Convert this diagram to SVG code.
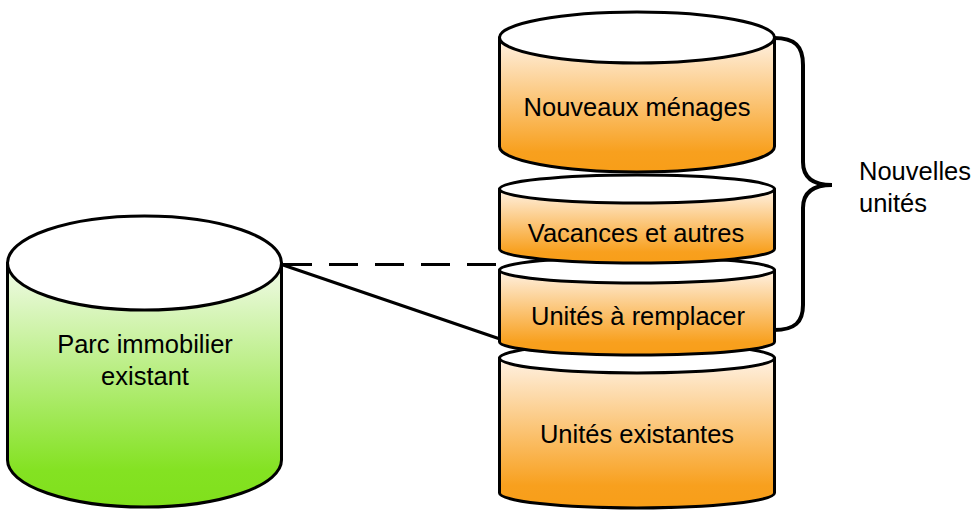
<svg xmlns="http://www.w3.org/2000/svg" width="976" height="512" viewBox="0 0 976 512">
<defs>
<linearGradient id="gOrange" x1="0" y1="0" x2="0" y2="1">
<stop offset="0" stop-color="#fff2e4"/>
<stop offset="0.85" stop-color="#f8a01e"/>
<stop offset="1" stop-color="#f89e18"/>
</linearGradient>
<linearGradient id="gGreen" x1="0" y1="0" x2="0" y2="1">
<stop offset="0" stop-color="#f2fbea"/>
<stop offset="0.85" stop-color="#84e222"/>
<stop offset="1" stop-color="#80e01c"/>
</linearGradient>
<style>
.body{stroke:#000;stroke-width:3;stroke-linejoin:round}
.top{fill:#fff;stroke:#000;stroke-width:3}
.or{fill:url(#gOrange)}
.gr{fill:url(#gGreen)}
.lbl{font-family:"Liberation Sans",Arial,sans-serif;font-size:25.5px;fill:#000;text-anchor:middle}
.lblL{font-family:"Liberation Sans",Arial,sans-serif;font-size:25.5px;fill:#000}
.conn{stroke:#000;stroke-width:3;fill:none}
</style>
</defs>
<rect width="976" height="512" fill="#fff"/>
<g id="connectors">
<line class="conn" x1="283" y1="264.5" x2="500" y2="264.5" stroke-dasharray="29 17"/>
<line class="conn" x1="283" y1="265" x2="500" y2="339"/>
</g>
<g id="parc-immobilier">
<path class="body gr" d="M7.5 263 L7.5 460 A137 47 0 0 0 281.5 460 L281.5 263 Z"/>
<ellipse class="top" cx="144.5" cy="263" rx="137" ry="47"/>
<text class="lbl" x="145" y="353">Parc immobilier</text>
<text class="lbl" x="145" y="385">existant</text>
</g>
<g id="unites-existantes">
<path class="body or" d="M499.5 358 L499.5 493 A137.5 15 0 0 0 774.5 493 L774.5 358 Z"/>
<ellipse class="top" cx="637" cy="358" rx="137.5" ry="15"/>
<text class="lbl" x="637" y="443">Unités existantes</text>
</g>
<g id="unites-a-remplacer">
<path class="body or" d="M499.5 270 L499.5 342 A137.5 13 0 0 0 774.5 342 L774.5 270 Z"/>
<ellipse class="top" cx="637" cy="270" rx="137.5" ry="13"/>
<text class="lbl" x="638" y="325">Unités à remplacer</text>
</g>
<g id="vacances-et-autres">
<path class="body or" d="M499.5 189 L499.5 249 A137.5 14 0 0 0 774.5 249 L774.5 189 Z"/>
<ellipse class="top" cx="637" cy="189" rx="137.5" ry="14"/>
<text class="lbl" x="636" y="242">Vacances et autres</text>
</g>
<g id="nouveaux-menages">
<path class="body or" d="M499.5 37.5 L499.5 146.5 A137.5 25.5 0 0 0 774.5 146.5 L774.5 37.5 Z"/>
<ellipse class="top" cx="637" cy="37.5" rx="137.5" ry="25.5"/>
<text class="lbl" x="637" y="116">Nouveaux ménages</text>
</g>
<g id="nouvelles-unites">
<path fill="none" stroke="#000" stroke-width="4" d="M774 38 C795 38 803 46 803 65 L803 162 C803 178 814 185 832 185 C814 185 803 192 803 208 L803 305 C803 322 795 330 774 330"/>
<text class="lblL" x="859" y="180">Nouvelles</text>
<text class="lblL" x="859" y="212">unités</text>
</g>
</svg>
